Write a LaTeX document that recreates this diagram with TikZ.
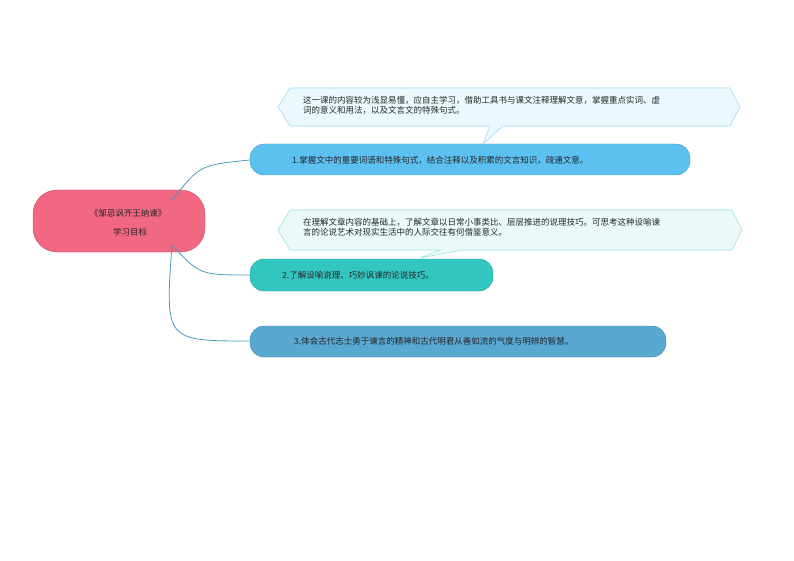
\documentclass[tikz,border=0pt]{standalone}
\usepackage{fontspec}
\setmainfont{Noto Sans CJK SC}
\begin{document}
\begin{tikzpicture}[x=1pt,y=-1pt,
 pill/.style={rounded corners=14pt,draw=#1!80!black,fill=#1},
 link/.style={draw=conn,line width=0.8pt},
 txt/.style={font=\fontsize{8.5}{10}\selectfont,text=black!85,inner sep=0pt},
 callout/.style={line width=0.6pt}]
\definecolor{c1}{HTML}{5CC1F1}
\definecolor{c2}{HTML}{33C5BF}
\definecolor{c3}{HTML}{58A8D2}
\definecolor{cr}{HTML}{F26782}
\definecolor{conn}{HTML}{4A9AB8}
\useasboundingbox (0,0) rectangle (794,561);
% root
\draw[pill=cr,rounded corners=24pt] (33,190) rectangle (205,252);
\node[txt] (r1) at (128,213) {《邹忌讽齐王纳谏》};
\node[txt] (r2) at (130,232) {学习目标};
\coordinate (root) at (172,200);
\coordinate (root2) at (172,245);
% nodes
\draw[pill=c1] (250,144) rectangle (690,175);
\node[txt,anchor=west] (n1) at (292,160) {1.掌握文中的重要词语和特殊句式，结合注释以及积累的文言知识，疏通文意。};
\draw[pill=c2] (250,259) rectangle (493,291);
\node[txt,anchor=west] (n2) at (282,275) {2.了解设喻说理、巧妙讽谏的论说技巧。};
\draw[pill=c3] (250,326) rectangle (666,357);
\node[txt,anchor=west] (n3) at (294,341) {3.体会古代志士勇于谏言的精神和古代明君从善如流的气度与明辨的智慧。};
\coordinate (e1) at (250,160);
\coordinate (e2) at (250,275);
\coordinate (e3) at (250,341);
\draw[link] (root) .. controls (200,165) .. (e1);
\draw[link] (root2) .. controls (200,275) .. (e2);
\draw[link] (root2) .. controls (165,341) .. (e3);
% callouts
\draw[callout,draw=c1!60,fill=c1!12] (278,107) -- (290,88) -- (730,88) -- (740,107) -- (730,126) -- (503,126) -- (483,144) -- (490,126) -- (290,126) -- cycle;
\node[txt,anchor=north west,align=left] (t1) at (303,96) {这一课的内容较为浅显易懂，应自主学习，借助工具书与课文注释理解文意，掌握重点实词、虚\\词的意义和用法，以及文言文的特殊句式。};
\draw[callout,draw=c2!50,fill=c2!10] (278,230) -- (290,210) -- (732,210) -- (742,230) -- (732,250) -- (462,250) -- (420,258) -- (440,250) -- (290,250) -- cycle;
\node[txt,anchor=north west,align=left] (t2) at (303,218) {在理解文章内容的基础上，了解文章以日常小事类比、层层推进的说理技巧。可思考这种设喻谏\\言的论说艺术对现实生活中的人际交往有何借鉴意义。};
\end{tikzpicture}
\end{document}
